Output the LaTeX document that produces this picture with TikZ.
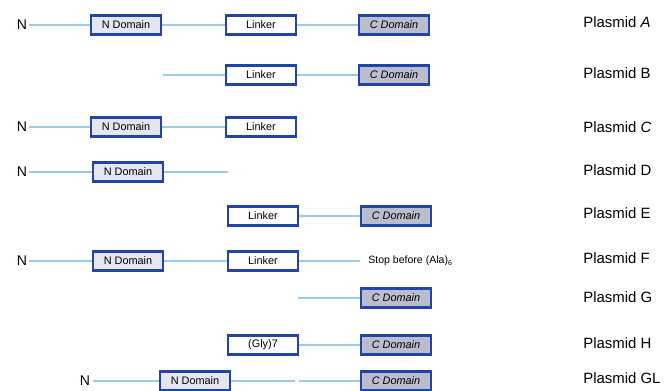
\documentclass[tikz,border=0pt]{standalone}
\usepackage{fontspec}
\setmainfont{Liberation Sans}
\usepackage{tikz}
\usetikzlibrary{positioning}
\usepackage{xcolor}
\definecolor{bline}{HTML}{9ACDE3}
\definecolor{bedge}{HTML}{2244A8}
\definecolor{nfill}{HTML}{E4E7F1}
\definecolor{cfill}{HTML}{B9BDCD}

\begin{document}
\begin{tikzpicture}[x=0.02cm, y=-0.02cm,
    dom/.style={draw=bedge, line width=1.2pt, minimum width=1.4cm, minimum height=0.38cm,
      inner sep=0pt, font=\fontsize{6.2}{7}\selectfont},
    ndom/.style={dom, fill=nfill},
    link/.style={dom, fill=white},
    cdom/.style={dom, fill=cfill, font=\fontsize{6.2}{7}\selectfont\itshape},
    nterm/.style={font=\fontsize{8}{9}\selectfont, inner sep=1pt},
    plas/.style={anchor=west, font=\fontsize{8.5}{10}\selectfont, inner sep=0pt},
    wire/.style={bline, line width=0.6pt}]
  \useasboundingbox (0,0) rectangle (665,390);
  %% Plasmid A
  \node[nterm] (ntA) at (22,25) {N};
  \node[ndom] (ndA) at (126,25) {N Domain};
  \node[link] (lkA) at (261,25) {Linker};
  \node[cdom] (cdA) at (394,25) {C Domain};
  \draw[wire] (ntA) -- (ndA) -- (lkA) -- (cdA);
  \node[plas] (pA) at (583,22) {Plasmid \textit{A}};
  %% Plasmid B
  \coordinate (stB) at (163,75);
  \node[link] (lkB) at (261,75) {Linker};
  \node[cdom] (cdB) at (394,75) {C Domain};
  \draw[wire] (stB) -- (lkB) -- (cdB);
  \node[plas] (pB) at (583,73) {Plasmid B};
  %% Plasmid C
  \node[nterm] (ntC) at (22,127) {N};
  \node[ndom] (ndC) at (126,127) {N Domain};
  \node[link] (lkC) at (261,127) {Linker};
  \draw[wire] (ntC) -- (ndC) -- (lkC);
  \node[plas] (pC) at (583,127) {Plasmid \textit{C}};
  %% Plasmid D
  \node[nterm] (ntD) at (22,172) {N};
  \node[ndom] (ndD) at (128,172) {N Domain};
  \coordinate (enD) at (228,172);
  \draw[wire] (ntD) -- (ndD) -- (enD);
  \node[plas] (pD) at (583,170) {Plasmid D};
  %% Plasmid E
  \node[link] (lkE) at (263,216) {Linker};
  \node[cdom] (cdE) at (396,216) {C Domain};
  \draw[wire] (lkE) -- (cdE);
  \node[plas] (pE) at (583,213) {Plasmid E};
  %% Plasmid F
  \node[nterm] (ntF) at (22,261) {N};
  \node[ndom] (ndF) at (128,261) {N Domain};
  \node[link] (lkF) at (263,261) {Linker};
  \coordinate (enF) at (360,261);
  \draw[wire] (ntF) -- (ndF) -- (lkF) -- (enF);
  \node[anchor=west, inner sep=0pt, font=\fontsize{6}{7}\selectfont] (stop) at (368,261)
    {Stop before (Ala)\raisebox{-0.4ex}{\fontsize{4}{4}\selectfont 6}};
  \node[plas] (pF) at (583,258) {Plasmid F};
  %% Plasmid G
  \coordinate (stG) at (298,298);
  \node[cdom] (cdG) at (396,298) {C Domain};
  \draw[wire] (stG) -- (cdG);
  \node[plas] (pG) at (583,297) {Plasmid G};
  %% Plasmid H
  \node[link] (glH) at (263,345) {(Gly)7};
  \node[cdom] (cdH) at (396,345) {C Domain};
  \draw[wire] (glH) -- (cdH);
  \node[plas] (pH) at (583,343) {Plasmid H};
  %% Plasmid GL
  \node[nterm] (ntGL) at (85,381) {N};
  \node[ndom] (ndGL) at (195,381) {N Domain};
  \node[cdom] (cdGL) at (396,381) {C Domain};
  \coordinate (gpa) at (295,381);
  \coordinate (gpb) at (299,381);
  \draw[wire] (ntGL) ++(8,0) -- (ndGL);
  \draw[wire] (ndGL) -- (gpa);
  \draw[wire] (gpb) -- (cdGL);
  \node[plas] (pGL) at (583,378) {Plasmid GL};
\end{tikzpicture}
\end{document}
